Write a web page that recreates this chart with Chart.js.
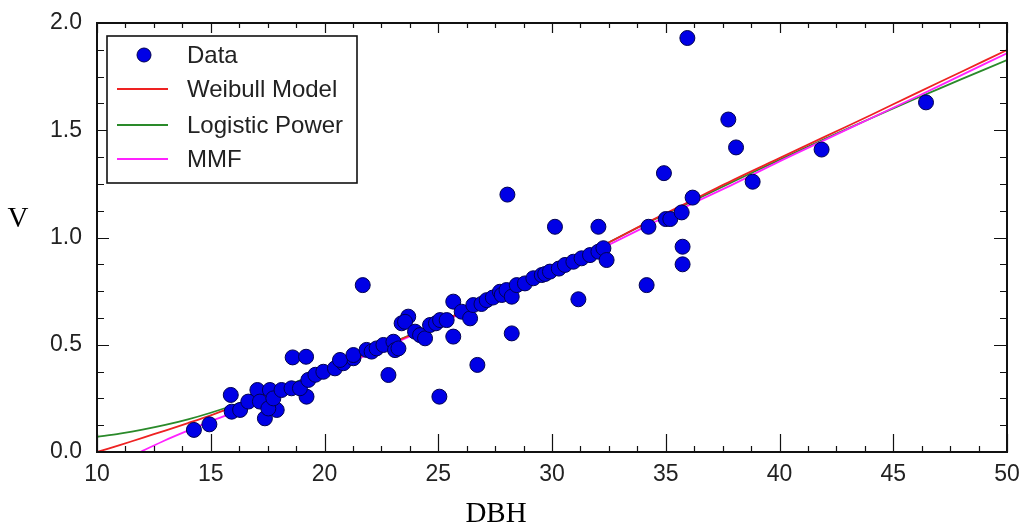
<!DOCTYPE html>
<html>
<head>
<meta charset="utf-8">
<title>V vs DBH</title>
<script src="https://cdn.jsdelivr.net/npm/chart.js@4.4.0/dist/chart.umd.min.js"></script>
<style>
  html, body { margin: 0; padding: 0; background: #fff; }
  canvas { display: block; }
</style>
</head>
<body>
<canvas id="vChart" width="1024" height="525"></canvas>
<script>
// measured trees: DBH and volume V
let dbh = [14.26, 14.94, 15.88, 15.92, 16.29, 16.65, 17.05, 17.16, 17.38, 17.6, 17.9, 17.53, 17.75, 18.11, 18.55, 18.6,
	19.19, 19.21, 18.92, 19.29, 19.6, 19.95, 20.46, 20.83, 21.27, 21.68, 20.68, 21.27, 21.85, 22.07, 22.29, 22.59, 22.81,
	23.03, 23.1, 23.25, 23.39, 23.68, 23.54, 23.98, 24.2, 24.42, 24.64, 24.9, 25.08, 25.05, 25.37, 25.66, 25.66, 26.03,
	26.4, 26.54, 26.72, 26.9, 27.13, 27.4, 27.71, 27.79, 28.0, 28.04, 28.23, 28.23, 28.45, 28.81, 29.18, 29.55, 29.7,
	29.91, 30.13, 30.3, 30.57, 30.94, 31.16, 31.3, 31.67, 32.04, 32.04, 32.26, 32.4, 34.16, 34.24, 34.92, 35.0, 35.2,
	35.7, 35.74, 35.74, 35.95, 36.18, 37.75, 38.09, 38.82, 41.85, 46.44];
let vol = [0.103, 0.129, 0.266, 0.188, 0.196, 0.235, 0.289, 0.235, 0.157, 0.289, 0.196, 0.203, 0.25, 0.289, 0.297, 0.441,
	0.444, 0.258, 0.297, 0.336, 0.36, 0.374, 0.39, 0.414, 0.437, 0.778, 0.429, 0.452, 0.476, 0.468, 0.483, 0.499, 0.359,
	0.514, 0.475, 0.483, 0.6, 0.631, 0.607, 0.561, 0.545, 0.53, 0.592, 0.6, 0.615, 0.258, 0.615, 0.538, 0.701, 0.654,
	0.623, 0.685, 0.406, 0.69, 0.708, 0.72, 0.747, 0.732, 0.755, 1.2, 0.724, 0.553, 0.778, 0.786, 0.81, 0.825, 0.83,
	0.841, 1.05, 0.855, 0.872, 0.887, 0.712, 0.903, 0.918, 1.05, 0.934, 0.95, 0.895, 0.778, 1.05, 1.3, 1.086, 1.086,
	1.117, 0.957, 0.875, 1.93, 1.186, 1.55, 1.42, 1.26, 1.41, 1.63];

// fitted curves
let curveX = [10, 11, 12, 13, 14, 15, 16, 18, 20, 22, 24, 26, 28, 30, 32, 34, 36, 38, 40, 42, 44, 46, 48, 50];
let weibullV = [0.0, 0.032, 0.066, 0.1, 0.135, 0.171, 0.21, 0.29, 0.375, 0.465, 0.555, 0.65, 0.745, 0.845, 0.95, 1.06,
	1.165, 1.27, 1.37, 1.47, 1.57, 1.672, 1.773, 1.874];
let logisticV = [0.071, 0.086, 0.104, 0.126, 0.152, 0.183, 0.218, 0.295, 0.38, 0.468, 0.556, 0.65, 0.745, 0.845, 0.95,
	1.058, 1.16, 1.262, 1.362, 1.46, 1.555, 1.648, 1.738, 1.827];
let mmfX = [11.9, 12, 13, 14, 15, 16, 18, 20, 22, 24, 26, 28, 30, 32, 34, 36, 38, 40, 42, 44, 46, 48, 50];
let mmfV = [0.0, 0.005, 0.055, 0.1, 0.143, 0.185, 0.275, 0.365, 0.458, 0.55, 0.645, 0.74, 0.838, 0.94, 1.045, 1.15,
	1.25, 1.355, 1.455, 1.555, 1.655, 1.757, 1.859];

let xTicks = [10, 15, 20, 25, 30, 35, 40, 45, 50];
let yTicks = [0.0, 0.5, 1.0, 1.5, 2.0];

function pairs(xs, ys) {
	return xs.map((x, i) => ({x: x, y: ys[i]}));
}

const lineStyle = {
	showLine: true,
	pointRadius: 0,
	pointHoverRadius: 0,
	borderWidth: 1.8,
	tension: 0.3,
	fill: false
};

const vData = {
	datasets: [{
		label: 'Data',
		data: pairs(dbh, vol),
		backgroundColor: '#0000e6',
		borderColor: '#000050',
		borderWidth: 1,
		pointRadius: 7.5,
		order: 0
	}, Object.assign({
		label: 'Weibull Model',
		data: pairs(curveX, weibullV),
		borderColor: '#ee2222',
		order: 1
	}, lineStyle), Object.assign({
		label: 'Logistic Power',
		data: pairs(curveX, logisticV),
		borderColor: '#2a8a2a',
		order: 3
	}, lineStyle), Object.assign({
		label: 'MMF',
		data: pairs(mmfX, mmfV),
		borderColor: '#ff22ff',
		order: 2
	}, lineStyle)]
};

// matplotlib-like frame, inward ticks, boxed legend and axis titles
const framePlugin = {
	id: 'frame',
	afterDatasetsDraw(chart) {
		const ctx = chart.ctx;
		const a = chart.chartArea;
		const xs = chart.scales.x;
		const ys = chart.scales.y;
		ctx.save();
		ctx.strokeStyle = '#111';
		ctx.lineWidth = 1.2;
		ctx.beginPath();
		for (let v = 10; v <= 50.001; v += 1.25) {
			const px = Math.round(xs.getPixelForValue(v)) + 0.5;
			const major = Math.abs(v % 5) < 0.01;
			ctx.moveTo(px, a.bottom);
			ctx.lineTo(px, a.bottom - (major ? 18 : 6));
			ctx.moveTo(px, a.top);
			ctx.lineTo(px, a.top + (major ? 10 : 5));
		}
		for (let v = 0; v <= 2.001; v += 0.125) {
			const py = Math.round(ys.getPixelForValue(v)) + 0.5;
			const major = Math.abs((v * 2) % 1) < 0.01;
			ctx.moveTo(a.left, py);
			ctx.lineTo(a.left + (major ? 12 : 7), py);
			ctx.moveTo(a.right, py);
			ctx.lineTo(a.right - (major ? 13 : 7), py);
		}
		ctx.stroke();
		ctx.lineWidth = 2;
		ctx.strokeRect(a.left, a.top, a.right - a.left, a.bottom - a.top);

		// legend box
		const bx = 107, by = 36, bw = 250, bh = 147;
		ctx.fillStyle = '#fff';
		ctx.fillRect(bx, by, bw, bh);
		ctx.lineWidth = 1.6;
		ctx.strokeStyle = '#111';
		ctx.strokeRect(bx, by, bw, bh);
		const rows = [55, 89, 125, 159];
		ctx.font = '24px "Liberation Sans", Arial, sans-serif';
		ctx.textBaseline = 'middle';
		ctx.textAlign = 'left';
		chart.data.datasets.forEach((ds, i) => {
			const cy = rows[i];
			if (i === 0) {
				ctx.beginPath();
				ctx.arc(144, cy, 7, 0, Math.PI * 2);
				ctx.fillStyle = ds.backgroundColor;
				ctx.fill();
				ctx.lineWidth = 1;
				ctx.strokeStyle = ds.borderColor;
				ctx.stroke();
			} else {
				ctx.beginPath();
				ctx.moveTo(117, cy);
				ctx.lineTo(168, cy);
				ctx.lineWidth = 1.8;
				ctx.strokeStyle = ds.borderColor;
				ctx.stroke();
			}
			ctx.fillStyle = '#222';
			ctx.fillText(ds.label, 187, cy + 1);
		});

		// axis titles (serif, V not rotated)
		ctx.fillStyle = '#000';
		ctx.font = '29px "Liberation Serif", "Times New Roman", serif';
		ctx.textAlign = 'center';
		ctx.textBaseline = 'alphabetic';
		ctx.fillText('V', 18, 227);
		ctx.fillText('DBH', 496, 522);
		ctx.restore();
	}
};

const config = {
	type: 'scatter',
	data: vData,
	options: {
		responsive: false,
		animation: false,
		layout: {
			padding: {top: 23, right: 17, left: 0, bottom: 0}
		},
		plugins: {
			legend: {display: false},
			tooltip: {enabled: false}
		},
		scales: {
			x: {
				type: 'linear',
				min: 10,
				max: 50,
				grid: {display: false, drawTicks: false},
				border: {display: false},
				afterBuildTicks: scale => { scale.ticks = xTicks.map(v => ({value: v})); },
				afterFit: scale => {
					scale.height = 73;
					scale.paddingLeft = 0;
					scale.paddingRight = 0;
				},
				ticks: {
					padding: 9,
					color: '#222',
					font: {family: '"Liberation Sans", Arial, sans-serif', size: 23},
					callback: v => String(v)
				}
			},
			y: {
				min: 0,
				max: 2,
				grid: {display: false, drawTicks: false},
				border: {display: false},
				afterBuildTicks: scale => { scale.ticks = yTicks.map(v => ({value: v})); },
				afterFit: scale => {
					scale.width = 97;
					scale.paddingTop = 0;
					scale.paddingBottom = 0;
				},
				ticks: {
					padding: 15,
					color: '#222',
					font: {family: '"Liberation Sans", Arial, sans-serif', size: 23},
					callback: v => Number(v).toFixed(1)
				}
			}
		}
	},
	plugins: [framePlugin]
};

const vChart = new Chart(document.getElementById('vChart'), config);
</script>
</body>
</html>
